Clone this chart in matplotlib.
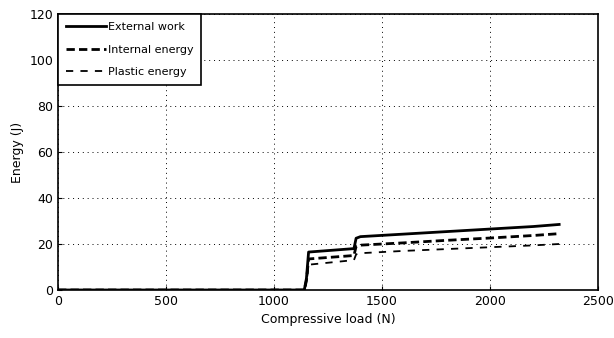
import numpy as np
import matplotlib.pyplot as plt

# compressive load (N) at breakpoints of the curves
load = [0, 1140, 1150, 1160, 1370, 1380, 1400, 1600, 1800, 2000, 2200, 2320]
external_work = [0, 0, 5, 16.5, 18, 22.5, 23.2, 24.3, 25.4, 26.5, 27.6, 28.5]
internal_energy = [0, 0, 4, 13.5, 15, 19, 19.5, 20.5, 21.6, 22.6, 23.7, 24.5]
plastic_energy = [0, 0, 3, 11, 13, 15.5, 16, 17, 17.8, 18.6, 19.4, 20]

fig = plt.figure(figsize=(6.14, 3.38), dpi=100)
ax = fig.add_axes([0.0945, 0.142, 0.8795, 0.8166])

ax.plot(load, external_work, 'k-', lw=2, label='External work')
ax.plot(load, internal_energy, 'k--', lw=2, dashes=(3, 1.5), label='Internal energy')
ax.plot(load, plastic_energy, 'k--', lw=1.3, dashes=(4, 4), label='Plastic energy')

ax.set_xlim(0, 2500)
ax.set_ylim(0, 120)
ax.set_xticks(np.arange(0, 2501, 500))
ax.set_yticks(np.arange(0, 121, 20))
ax.grid(True, linestyle=(0, (1, 4)), color='k', lw=0.7)
ax.tick_params(direction='in', labelsize=9, length=3)
for s in ax.spines.values():
    s.set_linewidth(1.2)
ax.set_xlabel('Compressive load (N)', fontsize=9)
ax.set_ylabel('Energy (J)', fontsize=9)

leg = ax.legend(loc='upper left', fontsize=8, handlelength=3.6, borderaxespad=0,
                fancybox=False, framealpha=1, edgecolor='k', borderpad=0.7,
                labelspacing=1.15, handletextpad=0.2)
leg.get_frame().set_linewidth(1.2)

fig.savefig('out.png', dpi=100)
